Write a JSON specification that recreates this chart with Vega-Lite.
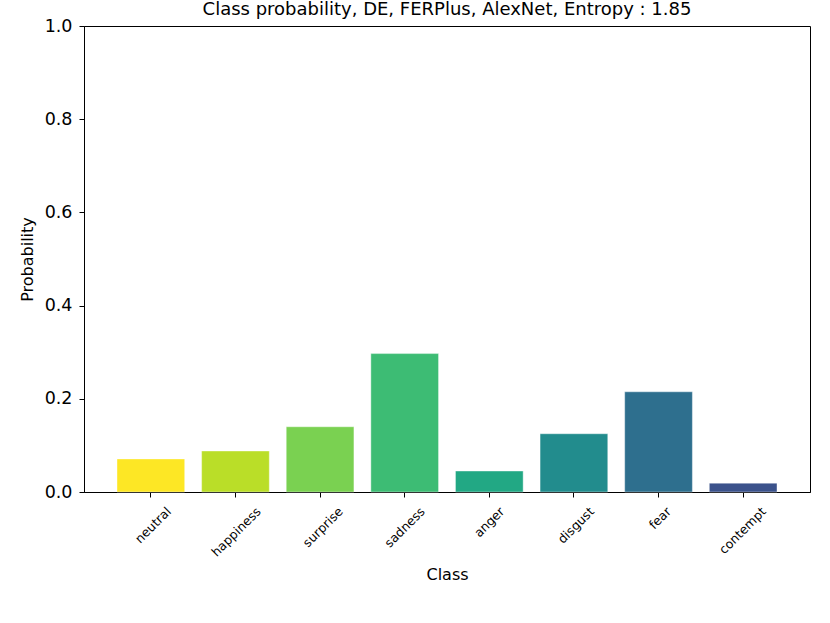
{
  "$schema": "https://vega.github.io/schema/vega-lite/v6.json",
  "width": 726,
  "height": 466,
  "autosize": "none",
  "padding": {"left": 84, "top": 26, "right": 20, "bottom": 131},
  "background": "white",
  "title": {"text": "Class probability, DE, FERPlus, AlexNet, Entropy : 1.85", "font": "DejaVu Sans", "fontSize": 18, "fontWeight": "normal", "color": "black", "offset": 0, "dy": 2},
  "data": {"values": [
    {"cls": "neutral", "p": 0.071, "c": "#fde725"},
    {"cls": "happiness", "p": 0.088, "c": "#bade28"},
    {"cls": "surprise", "p": 0.140, "c": "#7ad151"},
    {"cls": "sadness", "p": 0.297, "c": "#3dbc74"},
    {"cls": "anger", "p": 0.045, "c": "#22a884"},
    {"cls": "disgust", "p": 0.125, "c": "#228c8d"},
    {"cls": "fear", "p": 0.215, "c": "#2e6f8e"},
    {"cls": "contempt", "p": 0.019, "c": "#3b528b"}
  ]},
  "mark": {"type": "bar", "stroke": "white", "strokeOpacity": 0.5, "strokeWidth": 0.8},
  "encoding": {
    "x": {"field": "cls", "type": "nominal", "sort": null, "title": "Class",
      "scale": {"paddingInner": 0.2, "paddingOuter": 0.39},
      "axis": {"labelAngle": -45, "labelAlign": "right", "labelBaseline": "middle", "labelFont": "DejaVu Sans", "labelFontSize": 12.5, "labelColor": "black", "labelOffset": {"expr": "length(datum.label)*2.6"}, "labelPadding": 12, "tickSize": 5, "tickColor": "black", "domainColor": "black", "titleFont": "DejaVu Sans", "titleFontSize": 16, "titleFontWeight": "normal", "titleColor": "black", "titlePadding": 8}},
    "y": {"field": "p", "type": "quantitative", "title": "Probability",
      "scale": {"domain": [0, 1], "nice": false},
      "axis": {"values": [0, 0.2, 0.4, 0.6, 0.8, 1.0], "format": ".1f", "grid": false, "labelFont": "DejaVu Sans", "labelFontSize": 17.5, "labelColor": "black", "labelPadding": 7, "tickSize": 5, "tickColor": "black", "domainColor": "black", "titleFont": "DejaVu Sans", "titleFontSize": 16, "titleFontWeight": "normal", "titleColor": "black", "titlePadding": 9}},
    "color": {"field": "c", "type": "nominal", "scale": null, "legend": null}
  },
  "config": {"view": {"stroke": "black", "strokeWidth": 1}}
}
